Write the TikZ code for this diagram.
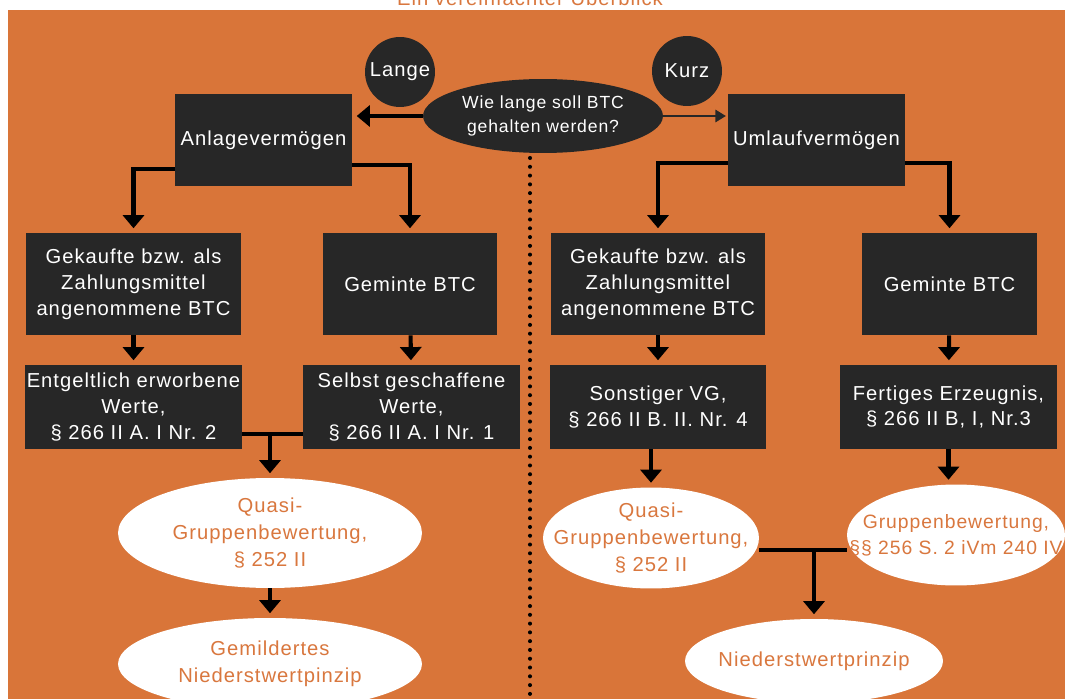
\documentclass[tikz,border=0pt]{standalone}
\usepackage{fontspec}
\setmainfont{Liberation Sans}[LetterSpace=5]
\usetikzlibrary{arrows.meta,shapes.geometric}

\definecolor{bgorange}{HTML}{D97539}
\definecolor{txtorange}{HTML}{D9773E}
\definecolor{boxgray}{HTML}{272727}

\tikzset{
  box/.style={fill=boxgray, text=white, align=center, inner sep=0pt, font=\fontsize{11.5}{14.7}\selectfont},
  oval/.style={ellipse, fill=white, text=txtorange, align=center, inner sep=-30pt, font=\fontsize{11.5}{15.3}\selectfont},
  kreis/.style={circle, fill=boxgray, text=white, minimum size=1.4cm, inner sep=0pt, font=\fontsize{11.5}{14}\selectfont},
  pfeil/.style={line width=2.3pt, -{Triangle[width=12pt,length=7.5pt]}, shorten >=2.5pt},
  linie/.style={line width=2.3pt}
}

\begin{document}
\begin{tikzpicture}[x=0.02cm, y=-0.02cm]

\useasboundingbox (0,0) rectangle (1065,699);
\fill[white] (0,0) rectangle (1065,699);
\fill[bgorange] (8,10) rectangle (1065,699);

\node[anchor=base, text=txtorange, font=\fontsize{11.5}{14}\selectfont] (titel) at (530,6) {Ein vereinfachter Überblick};

% Trennlinie
\draw[line width=2.3pt, line cap=round, dash pattern=on 0pt off 5pt] (530,158) -- (530,699);

% Frage oben
\node[kreis] (lange) at (400,72) {Lange};
\node[kreis] (kurz) at (687,71) {Kurz};
\node[ellipse, fill=boxgray, text=white, align=center, inner sep=0pt, minimum width=4.8cm, minimum height=1.48cm, font=\fontsize{10}{14}\selectfont] (frage) at (543,116) {Wie lange soll BTC\\gehalten werden?};

\node[box, minimum width=3.54cm, minimum height=1.84cm] (anlage) at (263.5,140) {Anlagevermögen};
\node[box, minimum width=3.54cm, minimum height=1.84cm] (umlauf) at (816.5,140) {Umlaufvermögen};

% zweite Reihe
\node[box, minimum width=4.3cm, minimum height=2.04cm] (gekauftL) at (133.5,284) {Gekaufte bzw. als\\Zahlungsmittel\\angenommene BTC};
\node[box, minimum width=3.48cm, minimum height=2.04cm] (gemintL) at (410,284) {Geminte BTC};
\node[box, minimum width=4.3cm, minimum height=2.04cm] (gekauftR) at (658,284) {Gekaufte bzw. als\\Zahlungsmittel\\angenommene BTC};
\node[box, minimum width=3.5cm, minimum height=2.04cm] (gemintR) at (949.5,284) {Geminte BTC};

% dritte Reihe
\node[box, minimum width=4.34cm, minimum height=1.68cm] (entgelt) at (133.5,407) {Entgeltlich erworbene\\Werte,\\§ 266 II A. I Nr. 2};
\node[box, minimum width=4.34cm, minimum height=1.68cm] (selbst) at (411.5,407) {Selbst geschaffene\\Werte,\\§ 266 II A. I Nr. 1};
\node[box, minimum width=4.34cm, minimum height=1.68cm] (sonstig) at (658,407) {Sonstiger VG,\\§ 266 II B. II. Nr. 4};
\node[box, minimum width=4.34cm, minimum height=1.68cm] (fertig) at (948.5,407) {Fertiges Erzeugnis,\\§ 266 II B, I, Nr.3};

% Bewertung
\node[oval, minimum width=6.08cm, minimum height=2.2cm] (quasiL) at (270,533) {Quasi-\\Gruppenbewertung,\\§ 252 II};
\node[oval, minimum width=6.08cm, minimum height=1.84cm] (gemild) at (270,664) {Gemildertes\\Niederstwertpinzip};
\node[oval, minimum width=4.32cm, minimum height=2.02cm] (quasiR) at (651,538) {Quasi-\\Gruppenbewertung,\\§ 252 II};
\node[oval, minimum width=4.36cm, minimum height=2.02cm, font=\fontsize{11}{15}\selectfont] (gruppe) at (956,535) {Gruppenbewertung,\\§§ 256 S. 2 iVm 240 IV};
\node[oval, minimum width=5.16cm, minimum height=1.68cm] (nieder) at (814,661) {Niederstwertprinzip};

% Pfeile
\draw[pfeil] (frage.west) -- (frage.west -| anlage.east);
\draw[line width=1.2pt, draw=boxgray, -{Triangle[width=7pt,length=6pt]}, shorten >=1pt] (frage.east) -- (frage.east -| umlauf.west);

\draw[pfeil] (anlage.west |- 0,169) -| (gekauftL.north);
\draw[pfeil] (anlage.east |- 0,165) -| (gemintL.north);
\draw[pfeil] (umlauf.west |- 0,163) -| (gekauftR.north);
\draw[pfeil] (umlauf.east |- 0,163) -| (gemintR.north);

\draw[pfeil] (gekauftL) -- (entgelt);
\draw[pfeil] (gemintL) -- (selbst);
\draw[pfeil] (gekauftR) -- (sonstig);
\draw[pfeil] (gemintR) -- (fertig);

\draw[linie] (entgelt.east |- 0,434) -- (selbst.west |- 0,434);
\draw[pfeil] (quasiL.north |- 0,434) -- (quasiL.north);
\draw[pfeil] (quasiL) -- (gemild);

\draw[pfeil] (sonstig.south -| quasiR.north) -- (quasiR.north);
\draw[pfeil] (fertig.south) -- (fertig.south |- gruppe.north);
\draw[linie] (quasiR.east |- 0,550) -- (gruppe.west |- 0,550);
\draw[pfeil] (nieder.north |- 0,550) -- (nieder.north);

\end{tikzpicture}
\end{document}
